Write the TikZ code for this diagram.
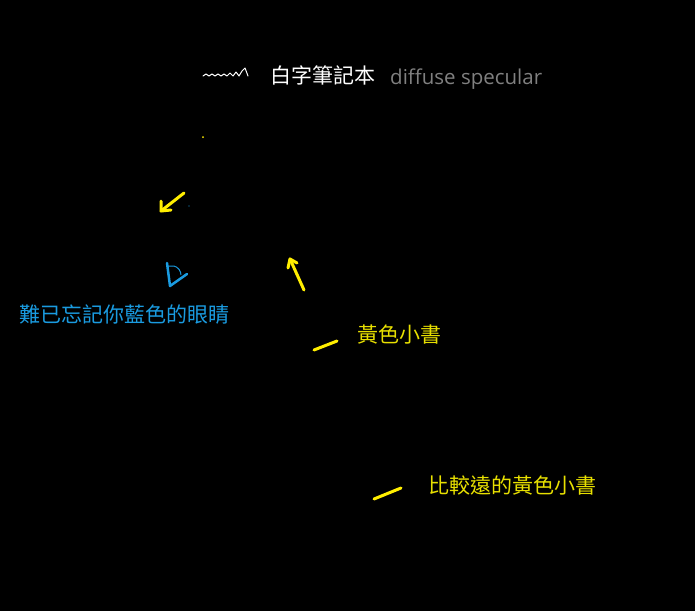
\documentclass[tikz,border=0pt]{standalone}
\usepackage{fontspec}
\newfontfamily\cjk{Noto Sans CJK TC}
\newfontfamily\latinsans{Open Sans}
\definecolor{ylw}{HTML}{FFEE00}
\definecolor{ylwtxt}{HTML}{E8E000}
\definecolor{blu}{HTML}{1A9BE0}
\definecolor{gry}{HTML}{808080}
\begin{document}
\begin{tikzpicture}[x=1pt,y=-1pt,
  lbl/.style={inner sep=0pt,anchor=west,font=\cjk\fontsize{21}{23}\selectfont},
  stroke/.style={line width=3pt,line cap=round,line join=round,ylw},
  thin/.style={line width=1.2pt,line cap=round,line join=round}]
\fill[black] (0,0) rectangle (695,611);
\useasboundingbox (0,0) rectangle (695,611);
% top row
\coordinate (sq0) at (203,76);
\draw[thin,white,line width=1pt] (sq0) -- (206,74) -- (209,76) -- (212,74) -- (215,76) -- (218,74) -- (221,76) -- (224,74) -- (227,76) -- (230,73) -- (233,76) -- (236,72) -- (239,76) -- (242,71) -- (245,68) -- (248,76) coordinate (sq1);
\node[lbl,text=white] (title) at (270,75) {白字筆記本};
\node[inner sep=0pt,anchor=west,text=gry,font=\latinsans\fontsize{20.5}{22}\selectfont] (ds) at (390,79) {diffuse specular};
% dots
\fill[ylw] (203,137) circle (1pt);
\fill[blu] (189,206) circle (0.6pt);
% arrow 1
\coordinate (a1s) at (184,193);
\coordinate (a1t) at (161,211);
\draw[stroke] (a1s) -- (a1t);
\draw[stroke] (161,201) -- (a1t) -- (171,210);
% arrow 2
\coordinate (a2s) at (304,290);
\coordinate (a2t) at (290,259);
\draw[stroke] (a2s) -- (a2t);
\draw[stroke] (288,268) -- (a2t) -- (297,263);
% eye
\coordinate (e0) at (167,263);
\coordinate (e1) at (170,286);
\coordinate (e2) at (187,274);
\draw[line width=2.5pt,blu,line cap=round,line join=round] (e0) -- (e1) -- (e2);
\draw[line width=1pt,blu] (168,266) -- (174,266) .. controls (178,267) and (181,271) .. (181,275);
\node[lbl,text=blu] (eyes) at (19,315) {難已忘記你藍色的眼睛};
% book 1
\coordinate (b1a) at (314,350);
\coordinate (b1b) at (337,341);
\draw[stroke] (b1a) -- (b1b);
\node[lbl,text=ylwtxt] (book1) at (357,335) {黃色小書};
% book 2
\coordinate (b2a) at (374,499);
\coordinate (b2b) at (401,488);
\draw[stroke] (b2a) -- (b2b);
\node[lbl,text=ylwtxt] (book2) at (428,485) {比較遠的黃色小書};
\end{tikzpicture}
\end{document}
